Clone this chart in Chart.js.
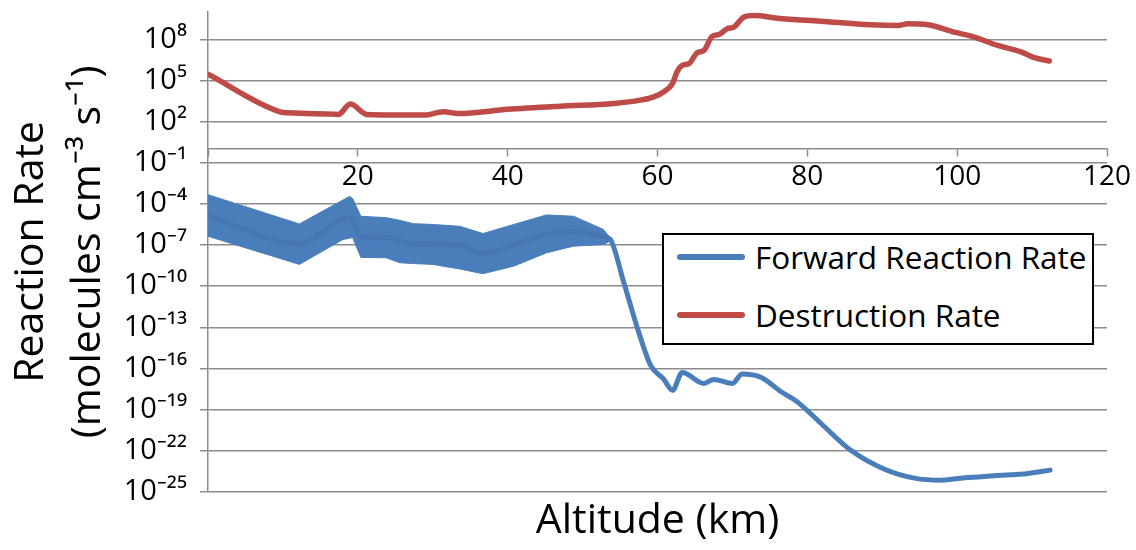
<!DOCTYPE html>
<html>
<head>
<meta charset="utf-8">
<script src="https://cdn.jsdelivr.net/npm/chart.js@4/dist/chart.umd.min.js"></script>
<style>
  body { margin: 0; background: #fff; }
  #wrap { position: relative; width: 1136px; height: 550px; }
  #legend {
    position: absolute; left: 662px; top: 233px; width: 428px; height: 108px;
    border: 2px solid #000; background: #fff;
    font-family: 'Open Sans', sans-serif; font-size: 31.5px; color: #000;
  }
  .item { position: absolute; left: 0; height: 40px; line-height: 40px; white-space: nowrap; }
  .item .swatch {
    position: absolute; left: 13px; top: 17px; width: 68px; height: 6px; border-radius: 3px;
  }
  .item span { position: absolute; left: 91px; }
</style>
</head>
<body>
<div id="wrap">
  <canvas id="rateChart" width="1136" height="550"></canvas>
  <div id="legend">
    <div class="item" style="top:2px"><div class="swatch" style="background:#4A7EBB"></div><span>Forward Reaction Rate</span></div>
    <div class="item" style="top:60px"><div class="swatch" style="background:#BE4B48"></div><span>Destruction Rate</span></div>
  </div>
</div>
<script>
// destruction rate (red)
const altDestruction = [0, 9.6, 10.8, 16.7, 17.4, 19.0, 21.2, 29.0, 31.4, 33.4, 40, 47.0, 54.2, 57.7, 59.5,
  60.8, 62.0, 62.6, 63.3, 64.2, 65.3, 66.2, 67.3, 68.2, 69.3, 70.2, 71.5, 72.9, 76.0, 81.8, 88.5,
  92.1, 93.4, 96.1, 99.6, 102.3, 105.4, 108.6, 110.3, 112.3];
const destructionRate = [2.88e5, 525, 447, 355, 339, 1905, 339, 302, 525, 398, 794, 1349, 2138, 3715, 6457,
  1.48e4, 6.03e4, 4.27e5, 1.29e6, 1.74e6, 1.07e7, 1.58e7, 1.66e8, 2.29e8, 6.03e8, 7.94e8, 4.17e9, 5.5e9, 3.55e9, 2.14e9, 1.17e9,
  1.05e9, 1.38e9, 1.17e9, 3.39e8, 1.48e8, 3.63e7, 1.2e7, 4.68e6, 2.69e6];

// forward reaction rate (blue), middle of the noisy band then single line
const altForward = [0, 12.2, 19.0, 20.4, 23.8, 27.4, 33.6, 36.7, 40.8, 45.2, 48.8, 52.8, 53.7,
  55.5, 57.5, 59.1, 60.8, 62.0, 63.3, 66.2, 67.5, 70.0, 71.3, 73.8, 76.5, 78.7, 81.8, 85.8,
  90.3, 94.3, 97.9, 101.0, 105.0, 109.5, 112.4];
const forwardRate = [1.41e-5, 1.26e-7, 1e-5, 3.98e-7, 3.55e-7, 1.26e-7, 1e-7, 2.51e-8, 1e-7, 6.31e-7, 1e-6, 3.98e-7, 2.51e-7,
  1.82e-10, 4.27e-14, 1.58e-16, 1.74e-17, 2.51e-18, 5.01e-17, 7.94e-18, 1.58e-17, 7.94e-18, 3.98e-17, 2.29e-17, 2e-18, 3.47e-19, 1e-20, 1.07e-22,
  4.47e-24, 1e-24, 7.08e-25, 1.05e-24, 1.48e-24, 2.19e-24, 3.8e-24];

// upper / lower edge of the oscillating band below 54 km
const altBand = [0, 12.2, 18.0, 18.9, 19.3, 20.4, 23.8, 25.6, 27.4, 30.0, 33.6, 36.7, 40.8, 45.2, 48.8, 52.8, 53.7];
const bandUpper = [4.68e-4, 3.47e-6, 1.91e-4, 3.55e-4, 2.51e-4, 1.26e-5, 1e-5, 6.31e-6, 3.63e-6, 3.16e-6, 2.34e-6, 6.92e-7,
  3.16e-6, 1.58e-5, 1.26e-5, 1.35e-6, 3.16e-7];
const bandLower = [4.37e-7, 3.89e-9, 2.51e-7, 3.16e-7, 3.55e-7, 1.26e-8, 1.17e-8, 5.13e-9, 4.47e-9, 3.89e-9, 1.78e-9, 8.13e-10,
  2.88e-9, 2.75e-8, 8.32e-8, 1.1e-7, 2e-7];

// axis ticks
const yTickValues = [1e-25, 1e-22, 1e-19, 1e-16, 1e-13, 1e-10, 1e-7, 1e-4, 1e-1, 1e2, 1e5, 1e8];
const xTickValues = [0, 20, 40, 60, 80, 100, 120];

const BLUE = "#4A7EBB";
const RED = "#BE4B48";
const GRID = "#8C8C8C";

const pts = (xs, ys) => xs.map((x, i) => ({ x: x, y: ys[i] }));
const sup = { "-": "\u207B", "0": "\u2070", "1": "\u00B9", "2": "\u00B2", "3": "\u00B3",
  "4": "\u2074", "5": "\u2075", "6": "\u2076", "7": "\u2077", "8": "\u2078", "9": "\u2079" };
const powLabel = (v) => "10" + String(Math.round(Math.log10(v))).split("").map((c) => sup[c]).join("");

Chart.defaults.font.family = "'Open Sans', sans-serif";
Chart.defaults.color = "#000";

const rateChart = new Chart("rateChart", {
  type: "line",
  data: {
    datasets: [
      {
        label: "Destruction Rate",
        data: pts(altDestruction, destructionRate),
        borderColor: RED,
        borderWidth: 5.5,
        cubicInterpolationMode: "monotone",
        order: 0,
      },
      {
        label: "Forward Reaction Rate",
        data: pts(altForward, forwardRate),
        borderColor: BLUE,
        borderWidth: 5,
        cubicInterpolationMode: "monotone",
        // slightly darker trace inside the band
        segment: {
          borderColor: (ctx) => (ctx.p1.parsed.x <= 53.7 ? "#4676B3" : BLUE),
        },
        order: 1,
      },
      {
        label: "band upper",
        data: pts(altBand, bandUpper),
        borderColor: BLUE,
        backgroundColor: BLUE,
        borderWidth: 1,
        fill: "+1",
        order: 2,
      },
      {
        label: "band lower",
        data: pts(altBand, bandLower),
        borderColor: BLUE,
        borderWidth: 1,
        fill: false,
        order: 3,
      },
    ],
  },
  options: {
    responsive: false,
    animation: false,
    events: [],
    layout: { padding: { top: 12, right: 29, bottom: 0, left: 0 } },
    elements: {
      point: { radius: 0 },
      line: { borderCapStyle: "round", borderJoinStyle: "round" },
    },
    plugins: {
      legend: { display: false },
      tooltip: { enabled: false },
      title: {
        display: true,
        position: "bottom",
        fullSize: false,
        text: "Altitude (km)",
        font: { size: 41, weight: "normal", lineHeight: 1.2 },
        padding: { top: 5, bottom: 4 },
        color: "#000",
      },
    },
    scales: {
      x: {
        type: "linear",
        min: 0,
        max: 120,
        position: { y: 1 },
        afterBuildTicks: (scale) => {
          scale.ticks = xTickValues.map((v) => ({ value: v }));
        },
        ticks: {
          font: { size: 28 },
          padding: 4,
          maxRotation: 0,
          callback: (v) => (v === 0 ? "" : v),
        },
        grid: { drawOnChartArea: false, drawTicks: true, tickLength: 7, tickColor: GRID, tickWidth: 1.5 },
        border: { display: true, color: GRID, width: 1.5 },
      },
      y: {
        type: "logarithmic",
        min: 1e-25,
        max: 1e10,
        afterBuildTicks: (scale) => {
          scale.ticks = yTickValues.map((v) => ({ value: v }));
        },
        afterFit: (scale) => {
          scale.width = 208;
          scale.paddingTop = 0;
          scale.paddingBottom = 0;
        },
        ticks: {
          font: { size: 29 },
          padding: 13,
          callback: (v) => powLabel(v),
        },
        grid: { color: GRID, lineWidth: 1.5, tickLength: 8 },
        border: { display: true, color: GRID, width: 1.5 },
        title: {
          display: true,
          text: ["Reaction Rate", "(molecules cm\u207B\u00B3 s\u207B\u00B9)"],
          font: { size: 41, lineHeight: 1.39 },
          padding: { top: 3 },
          color: "#000",
        },
      },
    },
  },
});
</script>
</body>
</html>
